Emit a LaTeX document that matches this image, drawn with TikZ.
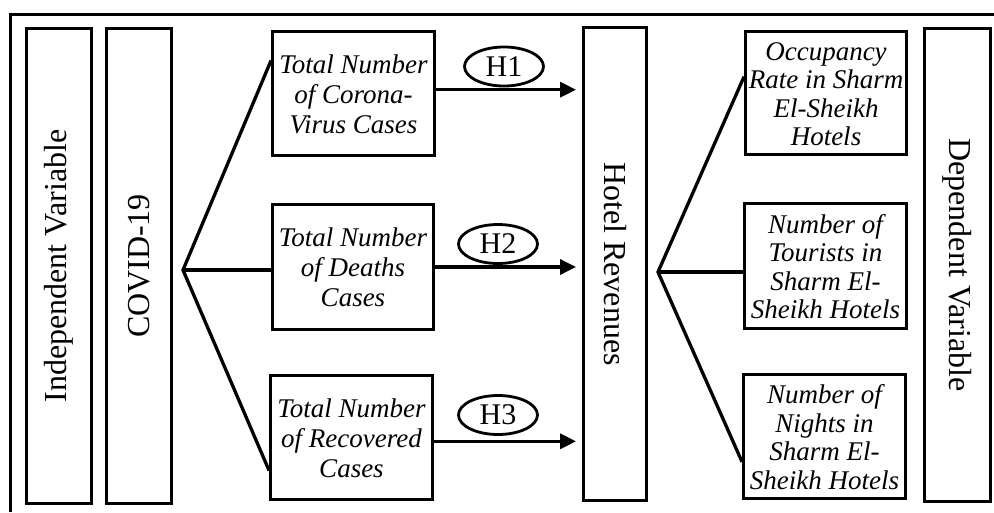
\documentclass[tikz,border=0pt]{standalone}
\usepackage{fontspec}
\setmainfont{Liberation Serif}
\usetikzlibrary{shapes.geometric,arrows.meta,calc}
\newcommand{\lowtext}[2]{\raisebox{-4pt}[\height][\depth]{\begin{tabular}{@{}c@{}}#2\end{tabular}}}
\begin{document}
\begin{tikzpicture}[x=1pt,y=-1pt,
  box/.style={draw, line width=3.4pt, inner sep=0pt, align=center},
  vbox/.style={box, font=\fontsize{32}{36}\selectfont},
  ibox/.style={box, font=\fontsize{27}{29.5}\selectfont\itshape},
  hyp/.style={draw, ellipse, line width=2.8pt, inner sep=0pt, minimum width=79pt, minimum height=39pt, font=\fontsize{30}{32}\selectfont},
  link/.style={line width=3.3pt, line join=miter},
  arr/.style={line width=3.3pt, -{Triangle[length=16pt,width=15pt]}, shorten >=6pt}]
\useasboundingbox (0,0) rectangle (994,512);
% outer frame (right and bottom edges lie outside the picture)
\draw[line width=3.4pt] (10.5,512) |- (994,14.5);
% vertical boxes
\node[vbox, minimum width=64.5pt, minimum height=474.5pt] (indep) at (59,266) {\rotatebox{90}{Independent Variable}};
\node[vbox, minimum width=64.5pt, minimum height=474.5pt] (covid) at (139,266) {\rotatebox{90}{COVID-19}};
\node[vbox, minimum width=62.5pt, minimum height=472.5pt] (hotel) at (615,264) {\rotatebox{-90}{Hotel Revenues}};
\node[vbox, minimum width=65.5pt, minimum height=472.5pt] (dep) at (957.5,265) {\rotatebox{-90}{Dependent Variable}};
% independent measures
\node[ibox, minimum width=161.5pt, minimum height=123.5pt] (b1) at (353.5,93.5) {\lowtext{}{Total Number\\[0.5pt]of Corona-\\[0.5pt]Virus Cases}};
\node[ibox, minimum width=160.5pt, minimum height=124.5pt] (b2) at (353,267) {\lowtext{}{Total Number\\[0.5pt]of Deaths\\[0.5pt]Cases}};
\node[ibox, minimum width=161.5pt, minimum height=123.5pt] (b3) at (351.5,437.5) {\lowtext{}{Total Number\\[0.5pt]of Recovered\\[0.5pt]Cases}};
% dependent measures
\node[ibox, minimum width=160.5pt, minimum height=122.5pt] (r1) at (826,93) {\lowtext{}{Occupancy\\[-1pt]Rate in Sharm\\[-1pt]El-Sheikh\\[-1pt]Hotels}};
\node[ibox, minimum width=161.5pt, minimum height=124.5pt] (r2) at (825.5,266) {\lowtext{}{Number of\\[-1pt]Tourists in\\[-1pt]Sharm El-\\[-1pt]Sheikh Hotels}};
\node[ibox, minimum width=161.5pt, minimum height=123.5pt] (r3) at (824.5,436.5) {\lowtext{}{Number of\\[-1pt]Nights in\\[-1pt]Sharm El-\\[-1pt]Sheikh Hotels}};
% hypotheses
\node[hyp] (h1) at (504,66.5) {H1};
\node[hyp] (h2) at (498,244) {H2};
\node[hyp] (h3) at (498,415) {H3};
% fan on the left
\coordinate (hubL) at (183,270);
\coordinate (b1in) at ($(b1.north west)!0.24!(b1.south west)$);
\coordinate (b3in) at ($(b3.north west)!0.76!(b3.south west)$);
\draw[link] (b1in) -- (hubL) -- (b3in);
\draw[link] (hubL) -- (hubL -| b2.west);
% fan on the right
\coordinate (hubR) at (658,272);
\coordinate (r1in) at ($(r1.north west)!0.37!(r1.south west)$);
\coordinate (r3in) at ($(r3.north west)!0.70!(r3.south west)$);
\draw[link] (r1in) -- (hubR) -- (r3in);
\draw[link] (hubR) -- (hubR -| r2.west);
% arrows
\coordinate (a1) at ($(b1.north east)!0.47!(b1.south east)$);
\coordinate (a3) at ($(b3.north east)!0.53!(b3.south east)$);
\draw[arr] (a1) -- (a1 -| hotel.west);
\draw[arr] (b2.east) -- (b2.east -| hotel.west);
\draw[arr] (a3) -- (a3 -| hotel.west);
\end{tikzpicture}
\end{document}
